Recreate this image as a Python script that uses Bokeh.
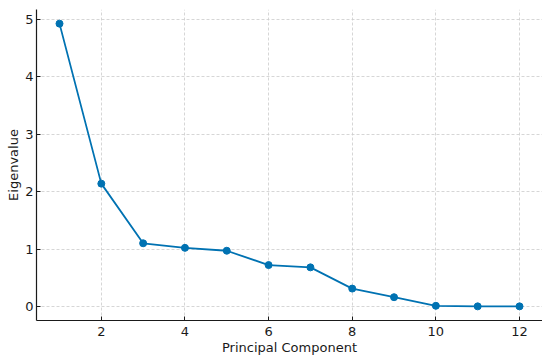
from bokeh.plotting import figure
from bokeh.models import Range1d, FixedTicker
from bokeh.embed import file_html
from bokeh.resources import INLINE

components = [1, 2, 3, 4, 5, 6, 7, 8, 9, 10, 11, 12]
eigenvalues = [4.93, 2.14, 1.10, 1.02, 0.97, 0.72, 0.68, 0.31, 0.16, 0.01, 0.0, 0.0]
x_ticks = [2, 4, 6, 8, 10, 12]
y_ticks = [0, 1, 2, 3, 4, 5]

color = "#0072B2"
font = "DejaVu Sans"

xspan = max(components) - min(components)
yspan = max(eigenvalues) - min(eigenvalues)
p = figure(
    output_backend="svg", toolbar_location=None,
    frame_width=506, frame_height=311,
    x_range=Range1d(min(components) - 0.05 * xspan, max(components) + 0.05 * xspan),
    y_range=Range1d(min(eigenvalues) - 0.05 * yspan, max(eigenvalues) + 0.05 * yspan),
    min_border_left=36, min_border_right=0, min_border_top=9, min_border_bottom=0,
)
p.outline_line_color = None
p.background_fill_color = "white"
p.border_fill_color = "white"

p.line(components, eigenvalues, line_color=color, line_width=1.8)
p.scatter(components, eigenvalues, size=7, fill_color=color, line_color=color)

for ax in (p.xaxis[0], p.yaxis[0]):
    ax.axis_line_color = "#1a1a1a"
    ax.axis_line_width = 1.2
    ax.major_tick_in = 4
    ax.major_tick_out = 0
    ax.minor_tick_line_color = None
    ax.major_tick_line_color = "#1a1a1a"
    ax.major_label_text_font = font
    ax.major_label_text_font_size = "13px"
    ax.major_label_text_color = "#1a1a1a"
    ax.axis_label_text_font = font
    ax.axis_label_text_font_size = "13px"
    ax.axis_label_text_font_style = "normal"
    ax.axis_label_text_color = "#1a1a1a"

p.xaxis.ticker = FixedTicker(ticks=x_ticks)
p.yaxis.ticker = FixedTicker(ticks=y_ticks)
p.xaxis.axis_label = "Principal Component"
p.yaxis.axis_label = "Eigenvalue"
p.xaxis.major_label_standoff = 6
p.xaxis.axis_label_standoff = 1
p.yaxis.major_label_standoff = 3
p.yaxis.axis_label_standoff = 1

for g in (p.xgrid[0], p.ygrid[0]):
    g.grid_line_color = "#cccccc"
    g.grid_line_dash = "3 2"
    g.grid_line_width = 0.8

open("out.html", "w").write(file_html(p, INLINE))
